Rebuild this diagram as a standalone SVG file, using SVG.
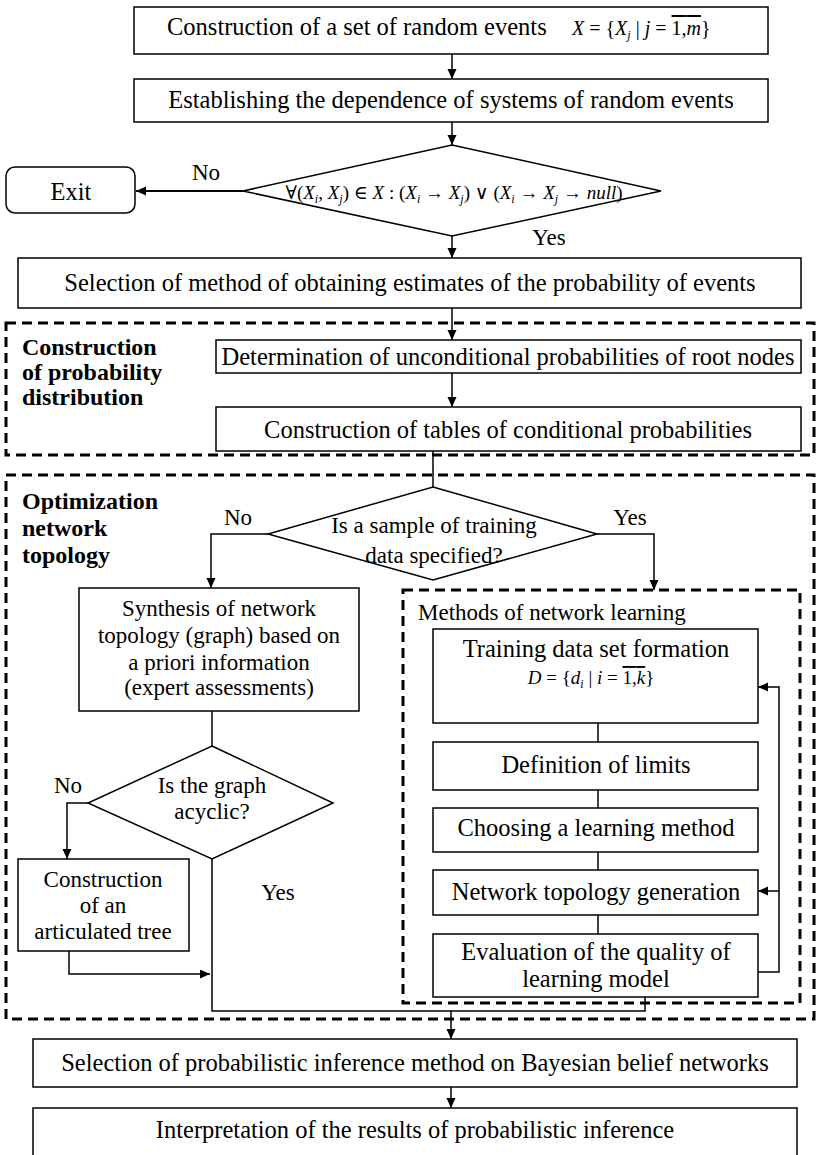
<svg xmlns="http://www.w3.org/2000/svg" width="817" height="1155" viewBox="0 0 817 1155">
<defs>
<marker id="ah" markerWidth="11" markerHeight="10" refX="10" refY="4.5" orient="auto" markerUnits="userSpaceOnUse">
<path d="M0,0 L10,4.5 L0,9 z" fill="#000"/>
</marker>
<style>
.box{fill:#fff;stroke:#000;stroke-width:1.5}
.reg{fill:none;stroke:#000;stroke-width:3;stroke-dasharray:10 6}
.ln{fill:none;stroke:#000;stroke-width:1.5}
.t{font-family:"Liberation Serif","Times New Roman",serif;font-size:24.5px;fill:#000;text-anchor:middle}
.s{font-family:"Liberation Serif","Times New Roman",serif;font-size:23px;fill:#000;text-anchor:middle}
.b{font-family:"Liberation Serif","Times New Roman",serif;font-size:24px;font-weight:bold;fill:#000}
.m{font-family:"Liberation Serif","DejaVu Serif",serif;font-size:20px;fill:#000}
.i{font-style:italic}
</style>
</defs>
<rect width="817" height="1155" fill="#fff"/>

<g id="regions">
<rect class="reg" x="6" y="323" width="808" height="132"/>
<rect class="reg" x="6" y="475" width="808" height="544"/>
<rect class="reg" x="403" y="590" width="397" height="413"/>
<text class="b" x="22" y="355">Construction</text>
<text class="b" x="22" y="380">of probability</text>
<text class="b" x="22" y="405">distribution</text>
<text class="b" x="22" y="509">Optimization</text>
<text class="b" x="22" y="536">network</text>
<text class="b" x="22" y="563">topology</text>
<text class="s" x="418" y="620" style="text-anchor:start">Methods of network learning</text>
</g>

<g id="connectors">
<line class="ln" x1="452" y1="54" x2="452" y2="79" marker-end="url(#ah)"/>
<line class="ln" x1="452" y1="122" x2="452" y2="145" marker-end="url(#ah)"/>
<line class="ln" x1="243" y1="191" x2="136" y2="191" style="stroke-width:2" marker-end="url(#ah)"/>
<line class="ln" x1="452" y1="236" x2="452" y2="258" marker-end="url(#ah)"/>
<line class="ln" x1="452" y1="308" x2="452" y2="340" marker-end="url(#ah)"/>
<line class="ln" x1="452" y1="373" x2="452" y2="407" marker-end="url(#ah)"/>
<line class="ln" x1="433" y1="451" x2="433" y2="487"/>
<polyline class="ln" points="268,534 211,534 211,588" marker-end="url(#ah)"/>
<polyline class="ln" points="597,534 654,534 654,590" marker-end="url(#ah)"/>
<line class="ln" x1="212" y1="711" x2="212" y2="746"/>
<polyline class="ln" points="88,803 67,803 67,859" marker-end="url(#ah)"/>
<polyline class="ln" points="69,951 69,974 210,974" marker-end="url(#ah)"/>
<polyline class="ln" points="212,859 212,1011 645,1011 645,997"/>
<line class="ln" x1="451" y1="1011" x2="451" y2="1039" marker-end="url(#ah)"/>
<line class="ln" x1="598" y1="723" x2="598" y2="742"/>
<line class="ln" x1="598" y1="790" x2="598" y2="808"/>
<line class="ln" x1="598" y1="852" x2="598" y2="870"/>
<line class="ln" x1="598" y1="915" x2="598" y2="934"/>
<polyline class="ln" points="758,972 779,972 779,687 758,687" marker-end="url(#ah)"/>
<line class="ln" x1="779" y1="891" x2="758" y2="891" marker-end="url(#ah)"/>
<line class="ln" x1="451" y1="1087" x2="451" y2="1108" marker-end="url(#ah)"/>
<text class="s" x="206" y="180">No</text>
<text class="s" x="549" y="245">Yes</text>
<text class="s" x="238" y="525">No</text>
<text class="s" x="630" y="525">Yes</text>
<text class="s" x="68" y="793">No</text>
<text class="s" x="278" y="900">Yes</text>
</g>

<g id="n1">
<rect class="box" x="134" y="7" width="634" height="47"/>
<text class="t" x="167" y="35" style="text-anchor:start">Construction of a set of random events</text>
<text class="m" x="572" y="35"><tspan class="i">X</tspan> = {<tspan class="i">X</tspan><tspan class="i" font-size="12" dy="4">j</tspan><tspan dy="-4"> | </tspan><tspan class="i">j</tspan> = <tspan text-decoration="overline">1,<tspan class="i">m</tspan></tspan>}</text>
</g>

<g id="n2">
<rect class="box" x="134" y="79" width="634" height="43"/>
<text class="t" x="451" y="108">Establishing the dependence of systems of random events</text>
</g>

<g id="n3">
<polygon class="box" points="452,145 661,191 452,236 243,191"/>
<text class="m" x="454" y="199" style="font-size:19px;text-anchor:middle">∀(<tspan class="i">X</tspan><tspan class="i" font-size="12" dy="4">i</tspan><tspan dy="-4">, </tspan><tspan class="i">X</tspan><tspan class="i" font-size="12" dy="4">j</tspan><tspan dy="-4">) ∈ </tspan><tspan class="i">X</tspan> : (<tspan class="i">X</tspan><tspan class="i" font-size="12" dy="4">i</tspan><tspan dy="-4"> → </tspan><tspan class="i">X</tspan><tspan class="i" font-size="12" dy="4">j</tspan><tspan dy="-4">) ∨ (</tspan><tspan class="i">X</tspan><tspan class="i" font-size="12" dy="4">i</tspan><tspan dy="-4"> → </tspan><tspan class="i">X</tspan><tspan class="i" font-size="12" dy="4">j</tspan><tspan dy="-4"> → </tspan><tspan class="i">null</tspan>)</text>
</g>

<g id="exit">
<rect class="box" x="6" y="167" width="129" height="46" rx="9"/>
<text class="t" x="71" y="200">Exit</text>
</g>

<g id="n4">
<rect class="box" x="18" y="258" width="783" height="50"/>
<text class="t" x="410" y="291">Selection of method of obtaining estimates of the probability of events</text>
</g>

<g id="n5">
<rect class="box" x="216" y="340" width="585" height="33"/>
<text class="t" x="508" y="365">Determination of unconditional probabilities of root nodes</text>
</g>

<g id="n6">
<rect class="box" x="216" y="407" width="585" height="44"/>
<text class="t" x="508" y="438">Construction of tables of conditional probabilities</text>
</g>

<g id="n7">
<polygon class="box" points="433,487 597,534 433,580 268,534"/>
<text class="s" x="434" y="533">Is a sample of training</text>
<text class="s" x="434" y="563">data specified?</text>
</g>

<g id="n8">
<rect class="box" x="79" y="588" width="280" height="123"/>
<text class="s" x="219" y="616">Synthesis of network</text>
<text class="s" x="219" y="643">topology (graph) based on</text>
<text class="s" x="219" y="670">a priori information</text>
<text class="s" x="219" y="695">(expert assessments)</text>
</g>

<g id="n9">
<polygon class="box" points="212,746 333,803 212,859 88,803"/>
<text class="s" x="212" y="793">Is the graph</text>
<text class="s" x="212" y="819">acyclic?</text>
</g>

<g id="n10">
<rect class="box" x="18" y="859" width="171" height="92"/>
<text class="s" x="103" y="887">Construction</text>
<text class="s" x="103" y="913">of an</text>
<text class="s" x="103" y="939">articulated tree</text>
</g>

<g id="n11">
<rect class="box" x="433" y="629" width="325" height="94"/>
<text class="t" x="596" y="657">Training data set formation</text>
<text class="m" x="591" y="684" style="font-size:19px;text-anchor:middle"><tspan class="i">D</tspan> = {<tspan class="i">d</tspan><tspan class="i" font-size="12" dy="4">i</tspan><tspan dy="-4"> | </tspan><tspan class="i">i</tspan> = <tspan text-decoration="overline">1,<tspan class="i">k</tspan></tspan>}</text>
</g>

<g id="n12">
<rect class="box" x="433" y="742" width="325" height="48"/>
<text class="t" x="596" y="773">Definition of limits</text>
</g>

<g id="n13">
<rect class="box" x="433" y="808" width="325" height="44"/>
<text class="t" x="596" y="836">Choosing a learning method</text>
</g>

<g id="n14">
<rect class="box" x="433" y="870" width="325" height="45"/>
<text class="t" x="596" y="900">Network topology generation</text>
</g>

<g id="n15">
<rect class="box" x="433" y="934" width="325" height="63"/>
<text class="t" x="596" y="960">Evaluation of the quality of</text>
<text class="t" x="596" y="987">learning model</text>
</g>

<g id="n16">
<rect class="box" x="33" y="1039" width="764" height="48"/>
<text class="t" x="415" y="1071">Selection of probabilistic inference method on Bayesian belief networks</text>
</g>

<g id="n17">
<rect class="box" x="33" y="1108" width="764" height="60"/>
<text class="t" x="415" y="1138">Interpretation of the results of probabilistic inference</text>
</g>
</svg>
